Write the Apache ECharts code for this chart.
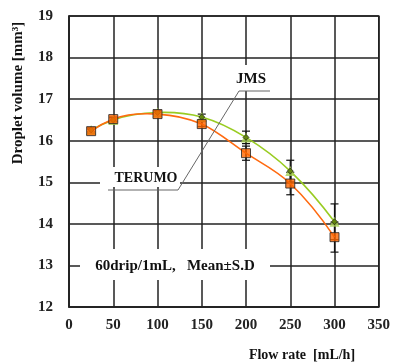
<!DOCTYPE html>
<html>
<head>
<meta charset="utf-8">
<script src="https://cdn.jsdelivr.net/npm/echarts@6/dist/echarts.min.js"></script>
<style>
  html, body { margin: 0; padding: 0; background: #fff; }
  #chart { width: 393px; height: 362px; }
</style>
</head>
<body>
<div id="chart"></div>
<script>
const flowRates = [25, 50, 100, 150, 200, 250, 300];
const terumoMean = [16.23, 16.52, 16.64, 16.40, 15.70, 14.97, 13.68];
const terumoSD = [0.05, 0.05, 0.05, 0.06, 0.17, 0.27, 0.36];
const jmsMean = [16.26, 16.50, 16.68, 16.57, 16.08, 15.27, 14.05];
const jmsSD = [0.05, 0.05, 0.05, 0.07, 0.15, 0.26, 0.43];

const serif = "'Liberation Serif', 'DejaVu Serif', serif";

const chart = echarts.init(document.getElementById('chart'));

function errorBars(means, sds) {
    return flowRates.map((x, i) => [x, means[i] - sds[i], means[i] + sds[i]]);
}

function renderError(params, api) {
    const x = api.value(0);
    const lo = api.coord([x, api.value(1)]);
    const hi = api.coord([x, api.value(2)]);
    const w = 4;
    const style = { stroke: '#111', lineWidth: 1.2 };
    return {
        type: 'group',
        children: [
            { type: 'line', shape: { x1: lo[0], y1: lo[1], x2: hi[0], y2: hi[1] }, style },
            { type: 'line', shape: { x1: lo[0] - w, y1: lo[1], x2: lo[0] + w, y2: lo[1] }, style },
            { type: 'line', shape: { x1: hi[0] - w, y1: hi[1], x2: hi[0] + w, y2: hi[1] }, style }
        ]
    };
}

// slopes at each point from the parabola through neighbours (for a smooth curve through the marks)
function slopes(xs, ys) {
    const n = xs.length, h = [], d = [];
    for (let i = 0; i < n - 1; i++) { h.push(xs[i + 1] - xs[i]); d.push((ys[i + 1] - ys[i]) / h[i]); }
    const m = [];
    m[0] = d[0] + (d[0] - d[1]) * h[0] / (h[0] + h[1]);
    for (let i = 1; i < n - 1; i++) m[i] = (h[i - 1] * d[i] + h[i] * d[i - 1]) / (h[i - 1] + h[i]);
    m[n - 1] = d[n - 2] + (d[n - 2] - d[n - 3]) * h[n - 2] / (h[n - 2] + h[n - 3]);
    return m;
}

function curveSeries(name, means, color) {
    const m = slopes(flowRates, means);
    return {
        name: name, type: 'custom', z: 3,
        data: flowRates.map((x, i) => [x, means[i]]),
        encode: { x: 0, y: 1 },
        renderItem: function (params, api) {
            const i = params.dataIndex;
            if (i >= flowRates.length - 1) return null;
            const x0 = flowRates[i], x1 = flowRates[i + 1], h = x1 - x0;
            const p0 = api.coord([x0, means[i]]);
            const c0 = api.coord([x0 + h / 3, means[i] + m[i] * h / 3]);
            const c1 = api.coord([x1 - h / 3, means[i + 1] - m[i + 1] * h / 3]);
            const p1 = api.coord([x1, means[i + 1]]);
            return {
                type: 'bezierCurve',
                shape: { x1: p0[0], y1: p0[1], cpx1: c0[0], cpy1: c0[1], cpx2: c1[0], cpy2: c1[1], x2: p1[0], y2: p1[1] },
                style: { stroke: color, lineWidth: 1.6, fill: null }
            };
        }
    };
}

const gridLine = { show: true, lineStyle: { color: '#222', width: 1.5 } };

chart.setOption({
    animation: false,
    grid: { left: 69, right: 12, top: 16, bottom: 55, show: true, borderColor: '#222', borderWidth: 1.5 },
    xAxis: {
        type: 'value', min: 0, max: 350, interval: 50,
        axisLine: { lineStyle: { color: '#222', width: 1.5 } },
        axisTick: { show: false },
        splitLine: gridLine,
        axisLabel: { color: '#222', fontFamily: serif, fontSize: 15, fontWeight: 'bold', margin: 11 }
    },
    yAxis: {
        type: 'value', min: 12, max: 19, interval: 1,
        axisLine: { lineStyle: { color: '#222', width: 1.5 } },
        axisTick: { show: false },
        splitLine: gridLine,
        axisLabel: { color: '#222', fontFamily: serif, fontSize: 15, fontWeight: 'bold', margin: 16 }
    },
    graphic: [
        // white boxes that break the grid behind the labels
        { type: 'rect', shape: { x: 80, y: 249, width: 190, height: 31 }, style: { fill: '#fff' }, z: 5 },
        { type: 'rect', shape: { x: 100, y: 167, width: 80, height: 20 }, style: { fill: '#fff' }, z: 5 },
        { type: 'rect', shape: { x: 232, y: 65, width: 38, height: 26 }, style: { fill: '#fff' }, z: 5 },
        { type: 'polyline', shape: { points: [[108, 190], [178, 190], [239, 91], [270, 91]] },
          style: { stroke: '#666', lineWidth: 1, fill: null }, z: 6 },
        { type: 'text', x: 251, y: 79, style: { text: 'JMS', font: 'bold 15px ' + serif, fill: '#111', align: 'center', verticalAlign: 'middle' }, z: 7 },
        { type: 'text', x: 146, y: 178, style: { text: 'TERUMO', font: 'bold 14px ' + serif, fill: '#111', align: 'center', verticalAlign: 'middle' }, z: 7 },
        { type: 'text', x: 175, y: 266, style: { text: '60drip/1mL,   Mean\u00b1S.D', font: 'bold 15px ' + serif, fill: '#111', align: 'center', verticalAlign: 'middle' }, z: 7 },
        { type: 'text', x: 18, y: 93, rotation: Math.PI / 2, style: { text: 'Droplet volume [mm\u00b3]', font: 'bold 15px ' + serif, fill: '#111', align: 'center', verticalAlign: 'middle' }, z: 7 },
        { type: 'text', x: 302, y: 355, style: { text: 'Flow rate  [mL/h]', font: 'bold 14px ' + serif, fill: '#111', align: 'center', verticalAlign: 'middle' }, z: 7 }
    ],
    series: [
        {
            name: 'JMS error', type: 'custom', renderItem: renderError, z: 3,
            data: errorBars(jmsMean, jmsSD), encode: { x: 0, y: [1, 2] }
        },
        {
            name: 'TERUMO error', type: 'custom', renderItem: renderError, z: 3,
            data: errorBars(terumoMean, terumoSD), encode: { x: 0, y: [1, 2] }
        },
        curveSeries('JMS', jmsMean, '#99cc22'),
        curveSeries('TERUMO', terumoMean, '#ff6a10'),
        {
            name: 'JMS mark', type: 'scatter', z: 4,
            data: flowRates.map((x, i) => [x, jmsMean[i]]),
            symbol: 'triangle', symbolSize: 10,
            itemStyle: { color: '#a8d050' }
        },
        {
            name: 'JMS inner', type: 'scatter', z: 4,
            data: flowRates.map((x, i) => [x, jmsMean[i]]),
            symbol: 'diamond', symbolSize: 6,
            itemStyle: { color: '#557700', borderColor: '#111', borderWidth: 0.8 }
        },
        {
            name: 'TERUMO mark', type: 'scatter', z: 4,
            data: flowRates.map((x, i) => [x, terumoMean[i]]),
            symbol: 'rect', symbolSize: 9,
            itemStyle: { color: '#ff6600', borderColor: '#222', borderWidth: 1 }
        }
    ]
});
</script>
</body>
</html>
